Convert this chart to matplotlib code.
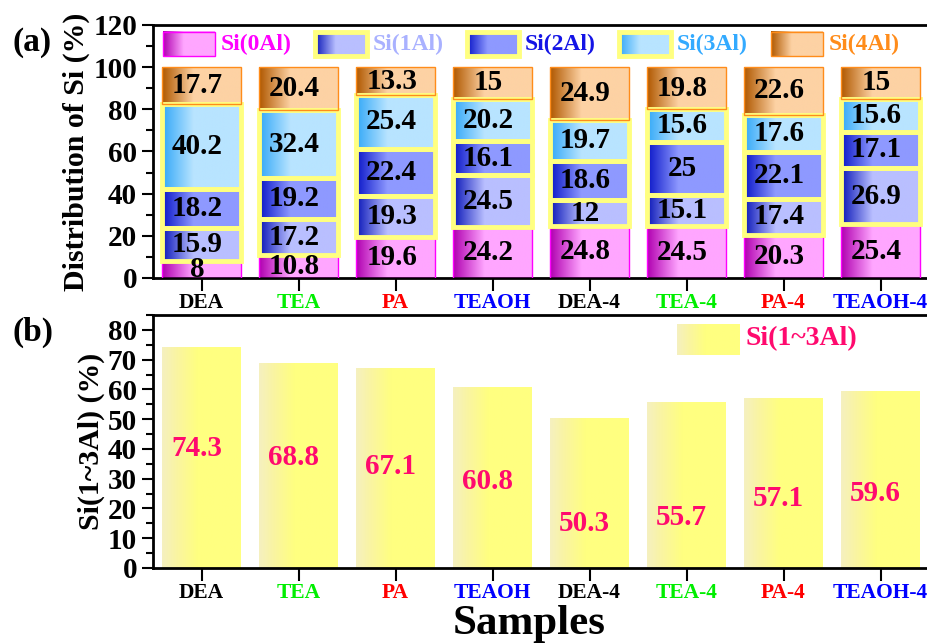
import numpy as np
import matplotlib
matplotlib.use("Agg")
import matplotlib.pyplot as plt
from matplotlib.colors import LinearSegmentedColormap
from matplotlib.patches import Rectangle

plt.rcParams['font.family'] = ['Liberation Serif', 'DejaVu Serif']
plt.rcParams['font.weight'] = 'bold'

samples = ["DEA", "TEA", "PA", "TEAOH", "DEA-4", "TEA-4", "PA-4", "TEAOH-4"]
sample_colors = ["black", "#00EE00", "red", "#0000FF"] * 2

series = ["Si(0Al)", "Si(1Al)", "Si(2Al)", "Si(3Al)", "Si(4Al)"]
si0 = [8, 10.8, 19.6, 24.2, 24.8, 24.5, 20.3, 25.4]
si1 = [15.9, 17.2, 19.3, 24.5, 12, 15.1, 17.4, 26.9]
si2 = [18.2, 19.2, 22.4, 16.1, 18.6, 25, 22.1, 17.1]
si3 = [40.2, 32.4, 25.4, 20.2, 19.7, 15.6, 17.6, 15.6]
si4 = [17.7, 20.4, 13.3, 15, 24.9, 19.8, 22.6, 15]
si13 = [74.3, 68.8, 67.1, 60.8, 50.3, 55.7, 57.1, 59.6]
# heights where the Si(1~3Al) numbers are written
si13_text_y = [40.3, 37, 34, 29, 14.8, 17, 23.5, 25]

# (dark, light, edge colour, edge width, legend text colour)
styles = [
    ("#B000B0", "#FFA6FF", "#FF00FF", 1.0, "#FF00FF"),
    ("#0A16B8", "#B9BFFF", "#FFFF80", 3.5, "#A9B1FF"),
    ("#0A16C8", "#8E99FF", "#FFFF80", 3.5, "#1414E6"),
    ("#33A8F8", "#B8E4FF", "#FFFF80", 3.5, "#33AAFF"),
    ("#B05800", "#FDD2A4", "#FF8C1A", 1.0, "#FF8C1A"),
]
label_pink = "#FF0A6E"
grad = np.linspace(0, 1, 256).reshape(1, -1)


def make_cmap(dark, light):
    mid = tuple((np.array(matplotlib.colors.to_rgb(dark)) + np.array(matplotlib.colors.to_rgb(light))) / 2)
    return LinearSegmentedColormap.from_list("g", [(0, dark), (0.2, mid), (0.4, light), (1, light)])


def fill_gradient(ax, patch, cmap, z):
    x0, y0 = patch.get_x(), patch.get_y()
    w, h = patch.get_width(), patch.get_height()
    im = ax.imshow(grad, extent=(x0, x0 + w, y0, y0 + h), aspect='auto', cmap=cmap, zorder=z)
    im.set_clip_path(patch)


def legend_patch(ax, x0, y0, w, h, cmap, ec, lw):
    ax.imshow(grad, extent=(x0, x0 + w, y0, y0 + h), aspect='auto', cmap=cmap,
              transform=ax.transAxes, zorder=5, clip_on=False)
    ax.add_patch(Rectangle((x0, y0), w, h, transform=ax.transAxes, fc='none', ec=ec, lw=lw, zorder=6))


def style_axes(ax, ymax, major, minor):
    x = np.arange(len(samples))
    ax.set_xlim(-0.5, 7.5)
    ax.set_ylim(0, ymax)
    ax.set_yticks(np.arange(0, ymax + 0.1, major))
    ax.set_yticks(np.arange(0, ymax + 0.1, minor), minor=True)
    ax.set_xticks(x)
    ax.set_xticklabels(samples, fontsize=15.5, fontweight='bold')
    for t, c in zip(ax.get_xticklabels(), sample_colors):
        t.set_color(c)
    ax.tick_params(axis='y', which='major', labelsize=21, length=8, width=1.5, direction='out')
    ax.tick_params(axis='y', which='minor', length=5, width=1.5, direction='out')
    ax.tick_params(axis='x', length=9, width=1.5, direction='out', pad=2)
    for s in ['left', 'bottom', 'top']:
        ax.spines[s].set_linewidth(2)
    ax.spines['right'].set_visible(False)


fig = plt.figure(figsize=(9.27, 6.43), dpi=100)
ax1 = fig.add_axes([153 / 927, 1 - 278 / 643, 776 / 927, 253 / 643])
ax2 = fig.add_axes([153 / 927, 1 - 568 / 643, 776 / 927, 253 / 643])

x = np.arange(len(samples))
width = 0.81

# (a) stacked distribution
bottom = np.zeros(len(samples))
for k, vals in enumerate([si0, si1, si2, si3, si4]):
    dark, light, ec, lw, _ = styles[k]
    cmap = make_cmap(dark, light)
    bars = ax1.bar(x, vals, width, bottom=bottom, color='none', edgecolor=ec, linewidth=lw, zorder=3 + k * 0.1)
    for b in bars:
        fill_gradient(ax1, b, cmap, 2 + k * 0.1)
    for xi, v, b0 in zip(x, vals, bottom):
        ax1.text(xi - 0.04, b0 + v / 2, f"{v:g}", ha='center', va='center', fontsize=21,
                 fontweight='bold', color='black', zorder=10)
    bottom += np.array(vals)

style_axes(ax1, 120, 20, 10)
ax1.set_ylabel("Distribution of Si (%)", fontsize=21.5, fontweight='bold', labelpad=2)

lx0, lstep, lw_ = 0.0129, 0.1959, 0.067
for k, name in enumerate(series):
    dark, light, ec, lw, tc = styles[k]
    legend_patch(ax1, lx0 + k * lstep, 0.877, lw_, 0.096, make_cmap(dark, light), ec, lw)
    ax1.text(lx0 + k * lstep + 0.074, 0.925, name, transform=ax1.transAxes, fontsize=17,
             fontweight='bold', color=tc, va='center', ha='left')

# (b) Si(1~3Al) sum
ycmap = LinearSegmentedColormap.from_list("y", [(0, "#F5F0C0"), (0.2, "#FAF5A0"), (0.45, "#FFFF80"), (1, "#FFFF80")])
bars = ax2.bar(x, si13, width, color='none', edgecolor='none', zorder=3)
for b in bars:
    fill_gradient(ax2, b, ycmap, 2)
for xi, v, ty in zip(x, si13, si13_text_y):
    ax2.text(xi - 0.05, ty, f"{v:g}", ha='center', va='center', fontsize=21,
             fontweight='bold', color=label_pink, zorder=10)

style_axes(ax2, 85, 10, 5)
ax2.set_yticks(np.arange(0, 81, 10))
ax2.set_ylabel("Si(1~3Al) (%)", fontsize=21.5, fontweight='bold', labelpad=2)
legend_patch(ax2, 0.675, 0.842, 0.08, 0.122, ycmap, 'none', 0)
ax2.text(0.764, 0.905, "Si(1~3Al)", transform=ax2.transAxes, fontsize=20, fontweight='bold',
         color=label_pink, va='center', ha='left')

fig.text(12 / 927, 1 - 43 / 643, "(a)", fontsize=24, fontweight='bold', va='center', ha='left')
fig.text(12 / 927, 1 - 332 / 643, "(b)", fontsize=24, fontweight='bold', va='center', ha='left')
fig.text(529 / 927, 1 - 634 / 643, "Samples", fontsize=31, fontweight='bold', va='baseline', ha='center')

fig.savefig("out.png", dpi=100)
